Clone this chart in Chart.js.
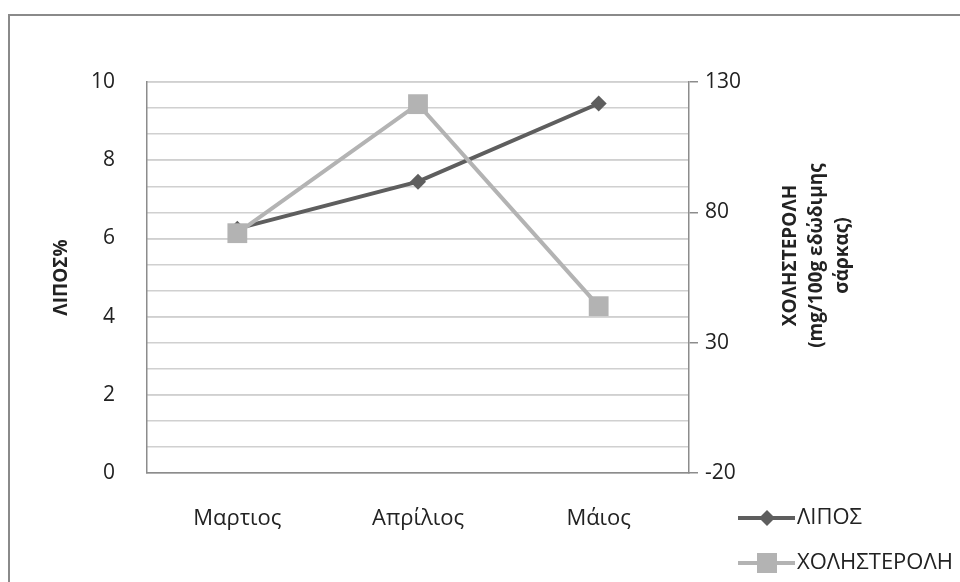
<!DOCTYPE html>
<html>
<head>
<meta charset="utf-8">
<title>ΛΙΠΟΣ / ΧΟΛΗΣΤΕΡΟΛΗ</title>
<script src="https://cdn.jsdelivr.net/npm/chart.js@4.4.1/dist/chart.umd.min.js"></script>
<style>
  html, body { margin: 0; padding: 0; background: #fff; }
  #wrap { position: relative; width: 960px; height: 582px; }
</style>
</head>
<body>
<div id="wrap"><canvas id="lineChart"></canvas></div>
<script>
// data
const months = ['Μαρτιος', 'Απρίλιος', 'Μάιος'];
const lipos = [6.25, 7.45, 9.45];          // ΛΙΠΟΣ %, left axis
const cholesterol = [72, 121.5, 44];        // mg/100g, right axis
const leftTicks = [0, 2, 4, 6, 8, 10];
const rightTicks = [-20, 30, 80, 130];
const rightTitle = ['ΧΟΛΗΣΤΕΡΟΛΗ', '(mg/100g εδώδιμης', 'σάρκας)'];

const FONT = "'Open Sans', 'Noto Sans', sans-serif";
const DARK = '#5e5e5e';
const LIGHT = '#b3b3b3';

// outer frame of the chart object
const framePlugin = {
  id: 'frame',
  beforeDraw(chart) {
    const ctx = chart.ctx;
    ctx.save();
    ctx.fillStyle = '#fff';
    ctx.fillRect(0, 0, chart.width, chart.height);
    ctx.strokeStyle = '#8a8a8a';
    ctx.lineWidth = 2;
    ctx.strokeRect(9, 15, 1000, 1000);
    ctx.restore();
  }
};

// right axis title reads bottom-to-top like the left one
const rightTitlePlugin = {
  id: 'rightTitle',
  afterDraw(chart) {
    const ctx = chart.ctx;
    const area = chart.chartArea;
    const cy = (area.top + area.bottom) / 2 - 22;
    ctx.save();
    ctx.translate(791, cy);
    ctx.rotate(-Math.PI / 2);
    ctx.font = 'bold 19px ' + FONT;
    ctx.fillStyle = '#222';
    ctx.textAlign = 'center';
    ctx.textBaseline = 'middle';
    rightTitle.forEach((line, i) => ctx.fillText(line, 0, i * 26));
    ctx.restore();
  }
};

// legend sits below the right axis, so it is drawn by hand
const legendPlugin = {
  id: 'sideLegend',
  afterDraw(chart) {
    const ctx = chart.ctx;
    ctx.save();
    chart.data.datasets.forEach((ds, i) => {
      const y = 518 + i * 45;
      ctx.strokeStyle = ds.borderColor;
      ctx.lineWidth = ds.borderWidth;
      ctx.beginPath();
      ctx.moveTo(738, y);
      ctx.lineTo(795, y);
      ctx.stroke();
      ctx.fillStyle = ds.pointBackgroundColor;
      if (ds.pointStyle === 'rectRot') {
        const r = 8;
        ctx.beginPath();
        ctx.moveTo(767 - r, y);
        ctx.lineTo(767, y - r);
        ctx.lineTo(767 + r, y);
        ctx.lineTo(767, y + r);
        ctx.closePath();
        ctx.fill();
      } else {
        ctx.fillRect(757, y - 10, 20, 20);
      }
      ctx.fillStyle = '#222';
      ctx.font = '22px ' + FONT;
      ctx.textBaseline = 'middle';
      ctx.fillText(ds.label, 797, y);
    });
    ctx.restore();
  }
};

const ctx = document.getElementById('lineChart').getContext('2d');
const chart = new Chart(ctx, {
  type: 'line',
  data: {
    labels: months,
    datasets: [
      {
        label: 'ΛΙΠΟΣ',
        data: lipos,
        yAxisID: 'y',
        borderColor: DARK,
        backgroundColor: DARK,
        pointBackgroundColor: DARK,
        pointBorderColor: DARK,
        borderWidth: 4,
        pointStyle: 'rectRot',
        pointRadius: 8,
        pointBorderWidth: 0,
        tension: 0,
        order: 1
      },
      {
        label: 'ΧΟΛΗΣΤΕΡΟΛΗ',
        data: cholesterol,
        yAxisID: 'y1',
        borderColor: LIGHT,
        backgroundColor: LIGHT,
        pointBackgroundColor: LIGHT,
        pointBorderColor: LIGHT,
        borderWidth: 4,
        pointStyle: 'rect',
        pointRadius: 14,
        pointBorderWidth: 0,
        tension: 0,
        order: 0
      }
    ]
  },
  options: {
    responsive: true,
    maintainAspectRatio: false,
    animation: false,
    layout: { padding: { top: 82, left: 0, right: 0, bottom: 0 } },
    plugins: {
      legend: { display: false },
      tooltip: { enabled: false }
    },
    scales: {
      x: {
        offset: true,
        grid: { display: false, drawTicks: false },
        border: { display: true, color: '#8c8c8c', width: 1.5 },
        ticks: { color: '#222', font: { family: FONT, size: 22 }, padding: 33 },
        afterFit(scale) { scale.height = 109; }
      },
      y: {
        position: 'left',
        min: 0,
        max: 10,
        afterBuildTicks(scale) { scale.ticks = leftTicks.map(v => ({ value: v })); },
        grid: { color: '#bcbcbc', lineWidth: 1.5, drawTicks: false },
        border: { display: true, color: '#8c8c8c', width: 1.5 },
        ticks: { color: '#222', font: { family: FONT, size: 21 }, padding: 32 },
        title: {
          display: true,
          text: 'ΛΙΠΟΣ%',
          color: '#222',
          font: { family: FONT, size: 19, weight: 'bold' },
          padding: { top: 50, bottom: 0 }
        },
        afterFit(scale) { scale.width = 147; }
      },
      y1: {
        position: 'right',
        min: -20,
        max: 130,
        ticks: {
          stepSize: 10,
          autoSkip: false,
          color: '#222',
          font: { family: FONT, size: 21 },
          padding: 7,
          callback: v => rightTicks.includes(v) ? String(v) : ''
        },
        grid: {
          color: '#d0d0d0',
          lineWidth: 1.5,
          tickLength: 9,
          tickColor: c => rightTicks.includes(c.tick && c.tick.value) ? '#8c8c8c' : 'rgba(0,0,0,0)'
        },
        border: { display: true, color: '#8c8c8c', width: 1.5 },
        afterFit(scale) { scale.width = 271; }
      }
    }
  },
  plugins: [framePlugin, rightTitlePlugin, legendPlugin]
});
</script>
</body>
</html>
